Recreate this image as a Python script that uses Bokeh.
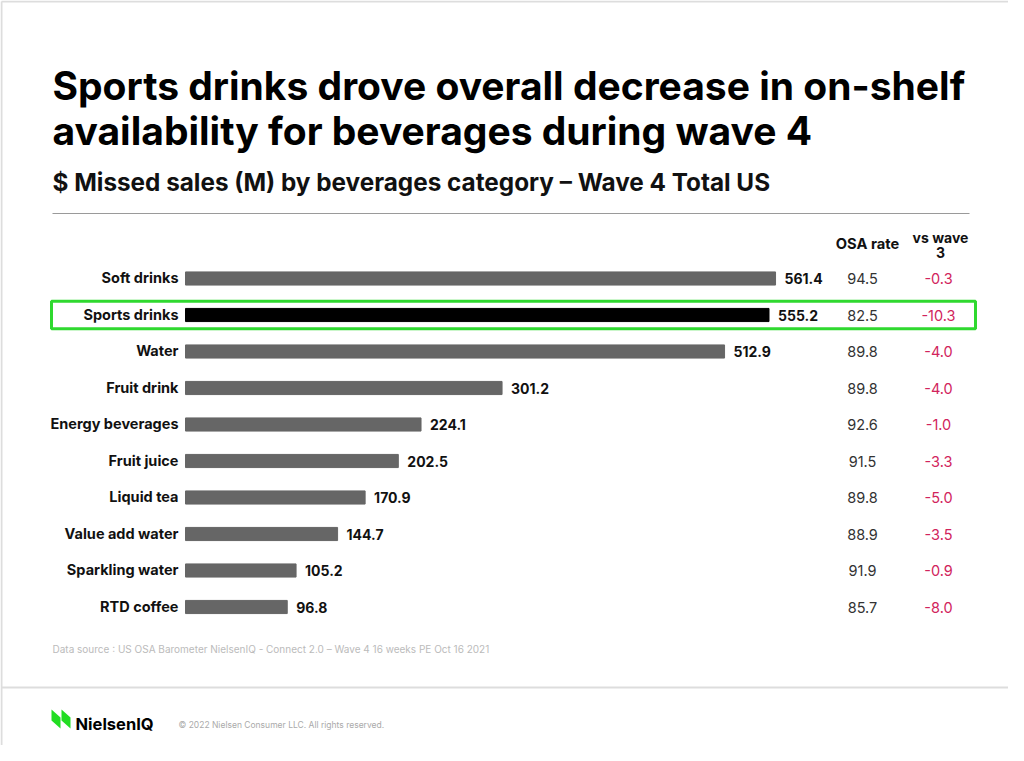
from bokeh.plotting import figure
from bokeh.models import Range1d, ColumnDataSource
from bokeh.core.properties import value
from bokeh.embed import file_html
from bokeh.resources import INLINE

# ---- data ----
categories = ["Soft drinks", "Sports drinks", "Water", "Fruit drink", "Energy beverages",
              "Fruit juice", "Liquid tea", "Value add water", "Sparkling water", "RTD coffee"]
missed_sales = [561.4, 555.2, 512.9, 301.2, 224.1, 202.5, 170.9, 144.7, 105.2, 96.8]
osa_rate = ["94.5", "82.5", "89.8", "89.8", "92.6", "91.5", "89.8", "88.9", "91.9", "85.7"]
vs_wave3 = ["-0.3", "-10.3", "-4.0", "-4.0", "-1.0", "-3.3", "-5.0", "-3.5", "-0.9", "-8.0"]
highlight = "Sports drinks"

TITLE1 = "Sports drinks drove overall decrease in on-shelf"
TITLE2 = "availability for beverages during wave 4"
SUBTITLE = "$ Missed sales (M) by beverages category \u2013 Wave 4 Total US"
SOURCE = "Data source : US OSA Barometer NielsenIQ - Connect 2.0 \u2013 Wave 4 16 weeks PE Oct 16 2021"
COPYRIGHT = "\u00a9 2022 Nielsen Consumer LLC. All rights reserved."

# ---- layout helpers (page pixel -> data) ----
W, H = 1008, 745
OFF = 0            # page pixel of the figure's top-left corner
K = 1.051          # px per $M
X0 = 185           # page x of value 0
ROW0, ROWH = 278, 36.5


def X(px):
    return (px - X0) / K


def Y(py):
    return (py - ROW0) / ROWH


FONT = value("Inter")

p = figure(width=W, height=H, output_backend="svg", toolbar_location=None,
           x_range=Range1d(X(OFF), X(OFF + W)), y_range=Range1d(Y(OFF + H), Y(OFF)),
           min_border=0, outline_line_color=None)
p.axis.visible = False
p.grid.visible = False
p.background_fill_color = "white"
p.border_fill_color = "white"

rows = list(range(len(categories)))
colors = ["#000000" if c == highlight else "#666666" for c in categories]
src = ColumnDataSource(dict(cat=categories, y=rows, v=missed_sales,
                            vt=[f"{v:.1f}" for v in missed_sales],
                            osa=osa_rate, d=vs_wave3, color=colors,
                            xo=[X(862)] * len(rows), xd=[X(938)] * len(rows)))

# page frame (left/top edges visible in window)
p.line(x=[X(1), X(1)], y=[Y(1), Y(OFF + H)], line_color="#dddddd", line_width=2)
p.line(x=[X(1), X(OFF + W)], y=[Y(1), Y(1)], line_color="#dddddd", line_width=2)

# highlight box
hi = categories.index(highlight)
p.quad(left=X(51), right=X(975), bottom=hi + 0.38, top=hi - 0.38,
       fill_color=None, line_color="#2fd92f", line_width=3)

# bars
p.hbar(y="y", left=0, right="v", height=0.36, color="color", source=src)

# category labels
p.text(x=0, y="y", text="cat", x_offset=-7, y_offset=-1, text_align="right",
       text_baseline="middle", text_font=FONT, text_font_style="bold",
       text_font_size="14.5px", text_color="#111111", source=src)
# value labels
p.text(x="v", y="y", text="vt", x_offset=9, text_align="left",
       text_baseline="middle", text_font=FONT, text_font_style="bold",
       text_font_size="14px", text_color="#111111", source=src)
# OSA column
p.text(x="xo", y="y", text="osa", text_align="center", text_baseline="middle",
       text_font=FONT, text_font_size="14.5px", text_color="#333333", source=src)
p.text(x="xd", y="y", text="d", text_align="center", text_baseline="middle",
       text_font=FONT, text_font_size="14.5px", text_color="#d1245c", source=src)

# column headers
p.text(x=[X(867)], y=[Y(243)], text=["OSA rate"], text_align="center",
       text_baseline="middle", text_font=FONT, text_font_style="bold",
       text_font_size="14.7px", text_color="#111111")
p.text(x=[X(940), X(940)], y=[Y(237), Y(252)], text=["vs wave", "3"],
       text_align="center", text_baseline="middle", text_font=FONT,
       text_font_style="bold", text_font_size="14px", text_color="#111111")

# titles
p.text(x=[X(52), X(52)], y=[Y(85), Y(130)], text=[TITLE1, TITLE2],
       text_align="left", text_baseline="middle", text_font=FONT,
       text_font_style="bold", text_font_size="39px", text_color="#000000")
p.text(x=[X(52)], y=[Y(181)], text=[SUBTITLE], text_align="left",
       text_baseline="middle", text_font=FONT, text_font_style="bold",
       text_font_size="24.3px", text_color="#111111")

# separator lines
p.line(x=[X(52), X(969)], y=[Y(213), Y(213)], line_color="#9a9a9a", line_width=1.2)
p.line(x=[X(1), X(OFF + W)], y=[Y(687), Y(687)], line_color="#dddddd", line_width=2)

# source note
p.text(x=[X(52)], y=[Y(648)], text=[SOURCE], text_align="left",
       text_baseline="middle", text_font=FONT, text_font_size="10px",
       text_color="#bbbbbb")

# logo
s1x = [X(51), X(51), X(60), X(60)]
s2x = [X(61), X(61), X(70), X(70)]
sy = [Y(709), Y(720), Y(728), Y(717)]
p.patches(xs=[s1x, s2x], ys=[sy, sy], color="#22dd22", line_width=0)
p.text(x=[X(75)], y=[Y(723)], text=["NielsenIQ"], text_align="left",
       text_baseline="middle", text_font=FONT, text_font_style="bold",
       text_font_size="16.5px", text_color="#000000")
p.text(x=[X(178)], y=[Y(724)], text=[COPYRIGHT], text_align="left",
       text_baseline="middle", text_font=FONT, text_font_size="8.5px",
       text_color="#aaaaaa")

open("out.html", "w").write(file_html(p, INLINE))
